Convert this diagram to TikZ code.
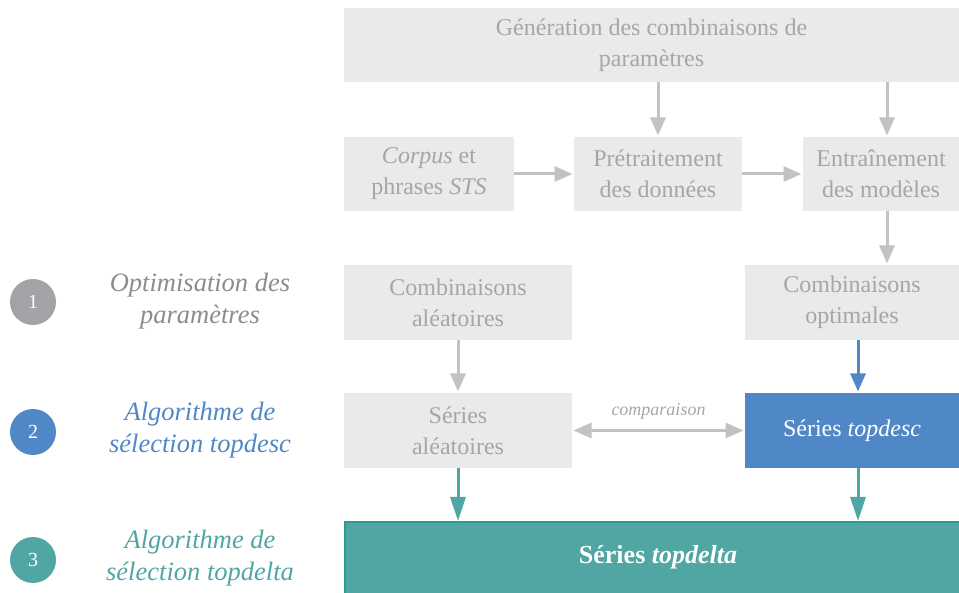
\documentclass[tikz,border=0pt]{standalone}
\usepackage{fontspec}
\setmainfont{LiberationSerif}[Extension=.ttf, UprightFont=*-Regular, ItalicFont=*-Italic,
  BoldFont=*-Bold, BoldItalicFont=*-BoldItalic]
\usetikzlibrary{arrows.meta,positioning}

\definecolor{boxgray}{HTML}{E9EAEC}
\definecolor{textgray}{HTML}{A6A6A8}
\definecolor{arrowgray}{HTML}{C2C2C4}
\definecolor{labelgray}{HTML}{8C8C8E}
\definecolor{stepgray}{HTML}{A3A3A7}
\definecolor{descblue}{HTML}{5087C6}
\definecolor{deltateal}{HTML}{4FA6A3}
\definecolor{tealline}{HTML}{2E9A94}

\tikzset{
  box/.style={fill=boxgray, text=textgray, align=center, inner sep=0pt, outer sep=0pt,
    anchor=north west, font=\fontsize{24}{31}\selectfont},
  flow/.style={line width=3pt, -{Triangle[width=15pt,length=18pt]}, shorten >=1.5pt},
  longflow/.style={line width=3pt, -{Triangle[width=15pt,length=24pt]}, shorten >=1pt},
  stepnum/.style={circle, minimum size=46pt, inner sep=0pt, text=white,
    font=\fontsize{20}{24}\selectfont},
  steplabel/.style={align=center, font=\fontsize{26.5}{32}\selectfont\itshape}
}

\begin{document}
\begin{tikzpicture}[x=1pt,y=-1pt]

    \clip (0,0) rectangle (959,593);

    %% Boxes of the workflow
    % Row 1
    \node[box, minimum width=615pt, minimum height=74pt] (gen) at (344,8)
      {G\'en\'eration des combinaisons de\\param\`etres};
    % Row 2
    \node[box, minimum width=170pt, minimum height=74pt] (corpus) at (344,137)
      {\textit{Corpus} et\\phrases \textit{STS}};
    \node[box, minimum width=168pt, minimum height=74pt] (pre) at (574,137)
      {Pr\'etraitement\\des donn\'ees};
    \node[box, minimum width=156pt, minimum height=74pt] (entr) at (803,137)
      {Entra\^inement\\des mod\`eles};
    % Row 3
    \node[box, minimum width=228pt, minimum height=75pt] (combal) at (344,265)
      {Combinaisons\\al\'eatoires};
    \node[box, minimum width=214pt, minimum height=75pt] (combopt) at (745,265)
      {Combinaisons\\optimales};
    % Row 4
    \node[box, minimum width=228pt, minimum height=75pt] (serial) at (344,393)
      {S\'eries\\al\'eatoires};
    \node[box, fill=descblue, text=white, minimum width=214pt, minimum height=75pt] (topdesc) at (745,393)
      {S\'eries \textit{topdesc}};
    % Row 5
    \node[box, fill=deltateal, draw=tealline, line width=2.5pt, text=white,
      minimum width=630pt, minimum height=90pt] (topdelta) at (345,522) {};
    \node[text=white, font=\fontsize{26}{31}\selectfont\bfseries] (deltatext) at (658,557)
      {S\'eries \textit{topdelta}};

    %% Connectors
    \coordinate (colE) at (887,0);
    \coordinate (colB) at (858,0);
    \draw[flow, arrowgray] (gen.south -| pre.north) -- (pre.north);
    \draw[flow, arrowgray] (gen.south -| colE) -- (entr.north -| colE);
    \draw[flow, arrowgray] (corpus.east) -- (pre.west);
    \draw[flow, arrowgray] (pre.east) -- (entr.west);
    \draw[flow, arrowgray] (entr.south -| colE) -- (combopt.north -| colE);
    \draw[flow, arrowgray] (combal.south) -- (serial.north);
    \draw[flow, descblue] (combopt.south -| colB) -- (topdesc.north -| colB);
    \draw[flow, arrowgray, {Triangle[width=15pt,length=18pt]}-{Triangle[width=15pt,length=18pt]}, shorten <=1.5pt]
      (serial.east) -- node[above=6pt, text=textgray, font=\fontsize{18}{20}\selectfont\itshape] (cmp) {comparaison} (topdesc.west);
    \draw[longflow, deltateal] (serial.south) -- (topdelta.north -| serial.south);
    \draw[longflow, deltateal] (topdesc.south -| colB) -- (topdelta.north -| colB);

    %% Steps on the left
    \node[stepnum, fill=stepgray] (one) at (33,302) {1};
    \node[stepnum, fill=descblue] (two) at (33,432) {2};
    \node[stepnum, fill=deltateal] (three) at (33,560) {3};
    \node[steplabel, text=labelgray] (optlab) at (200,301) {Optimisation des\\param\`etres};
    \node[steplabel, text=descblue] (desclab) at (200,430) {Algorithme de\\s\'election topdesc};
    \node[steplabel, text=deltateal] (deltalab) at (200,558) {Algorithme de\\s\'election topdelta};

\end{tikzpicture}
\end{document}
